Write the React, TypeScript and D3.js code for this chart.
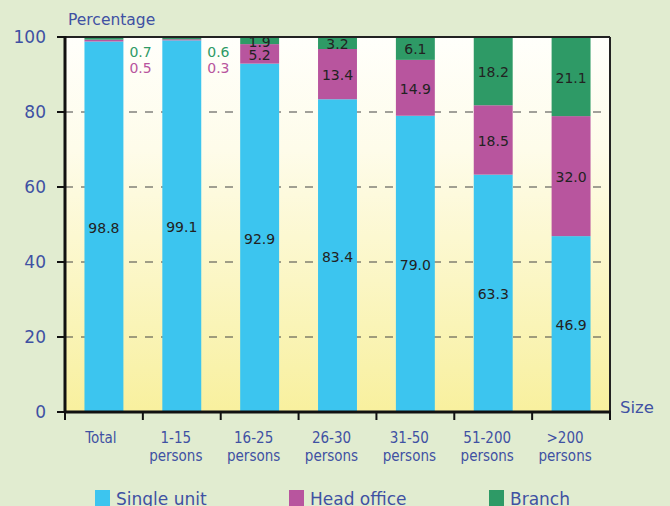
import React from "react";
import * as d3 from "d3";

const categories = ["Total", "1-15|persons", "16-25|persons", "26-30|persons", "31-50|persons", "51-200|persons", ">200|persons"];
const singleUnit = [98.8, 99.1, 92.9, 83.4, 79.0, 63.3, 46.9];
const headOffice = [0.5, 0.3, 5.2, 13.4, 14.9, 18.5, 32.0];
const branch = [0.7, 0.6, 1.9, 3.2, 6.1, 18.2, 21.1];
const yTicks = [0, 20, 40, 60, 80, 100];
const seriesNames = ["Single unit", "Head office", "Branch"];

const COLORS = ["#3cc5ef", "#b8559e", "#2e9a66"];
const TEXT = "#3f51a3";
const FONT = "DejaVu Sans, sans-serif";
const COND = "DejaVu Sans Condensed, DejaVu Sans, sans-serif";

export default function App() {
  const W = 670, H = 506;
  const left = 65, right = 610, top = 37, bottom = 412;
  const x = d3.scaleBand<string>().domain(categories).range([left, right]).paddingInner(0.5).paddingOuter(0.25);
  const band = d3.scaleBand<string>().domain(categories).range([left, right]);
  const y = d3.scaleLinear().domain([0, 100]).range([bottom, top]);

  const rows = categories.map((c, i) => ({ c, s: singleUnit[i], h: headOffice[i], b: branch[i] }));
  const stack = d3.stack<any>().keys(["s", "h", "b"])(rows);

  return (
    <svg width={W} height={H} style={{ position: "absolute", left: 0, top: 0, display: "block" }} fontFamily={FONT}>
      <defs>
        <linearGradient id="bg" x1="0" y1="0" x2="0" y2="1">
          <stop offset="0" stopColor="#fffffb" />
          <stop offset="0.3" stopColor="#fefcea" />
          <stop offset="1" stopColor="#f8f09e" />
        </linearGradient>
      </defs>
      <rect x={0} y={0} width={W} height={H} fill="#e1ecd0" />
      <rect x={left} y={top} width={right - left} height={bottom - top} fill="url(#bg)" />
      {yTicks.filter(t => t > 0 && t < 100).map(t => (
        <line key={t} x1={left} x2={right} y1={y(t)} y2={y(t)} stroke="#444" strokeWidth={1.2} strokeDasharray="8,8" />
      ))}
      {stack.map((layer, li) => (
        <g key={li} fill={COLORS[li]}>
          {layer.map((d, i) => (
            <rect key={i} x={x(categories[i])} width={x.bandwidth()} y={y(d[1])} height={y(d[0]) - y(d[1])} />
          ))}
        </g>
      ))}
      {stack.map((layer, li) => layer.map((d, i) => {
        const v = [singleUnit, headOffice, branch][li][i];
        const cx = (x(categories[i]) as number) + x.bandwidth() / 2;
        if (i < 2 && li > 0) {
          const rx = (x(categories[i]) as number) + x.bandwidth() + 6;
          return (
            <text key={li + "-" + i} x={rx} y={li === 2 ? 57 : 73} fontSize={14} fill={COLORS[li]}>{v.toFixed(1)}</text>
          );
        }
        const my = (y(d[0]) + y(d[1])) / 2;
        return (
          <text key={li + "-" + i} x={cx} y={my + 6} fontSize={14} textAnchor="middle" fill="#222">{v.toFixed(1)}</text>
        );
      }))}
      <line x1={left} x2={right} y1={top} y2={top} stroke="#222" strokeWidth={2} />
      <line x1={right} x2={right} y1={top} y2={bottom} stroke="#222" strokeWidth={2} />
      <line x1={left} x2={left} y1={top - 1} y2={bottom + 1} stroke="#111" strokeWidth={3} />
      <line x1={left - 1} x2={right + 1} y1={bottom} y2={bottom} stroke="#111" strokeWidth={3} />
      {yTicks.map(t => (
        <g key={t}>
          <line x1={left - 8} x2={left} y1={y(t)} y2={y(t)} stroke="#111" strokeWidth={2} />
          <text x={46} y={y(t) + 6} textAnchor="end" fontSize={17} fill={TEXT}>{t}</text>
        </g>
      ))}
      {[...categories.map(c => band(c) as number), right].map((tx, i) => (
        <line key={i} x1={tx} x2={tx} y1={bottom} y2={bottom + 8} stroke="#111" strokeWidth={2} />
      ))}
      {categories.map((c, i) => {
        const cx = (band(c) as number) + band.bandwidth() / 2 - (i === 0 ? 3 : 6);
        const parts = c.split("|");
        return (
          <text key={c} x={cx} textAnchor="middle" fontSize={15} fontFamily={COND} fill={TEXT}>
            {parts.map((p, k) => (
              <tspan key={k} x={cx} y={443 + k * 18}>{p}</tspan>
            ))}
          </text>
        );
      })}
      <text x={68} y={25} fontSize={15.5} fill={TEXT}>Percentage</text>
      <text x={620} y={413} fontSize={16.5} fill={TEXT}>Size</text>
      {seriesNames.map((n, i) => {
        const lx = [95, 289, 489][i];
        return (
          <g key={n}>
            <rect x={lx} y={490} width={15} height={16} fill={COLORS[i]} />
            <text x={lx + 21} y={505} fontSize={17} fill={TEXT}>{n}</text>
          </g>
        );
      })}
    </svg>
  );
}
